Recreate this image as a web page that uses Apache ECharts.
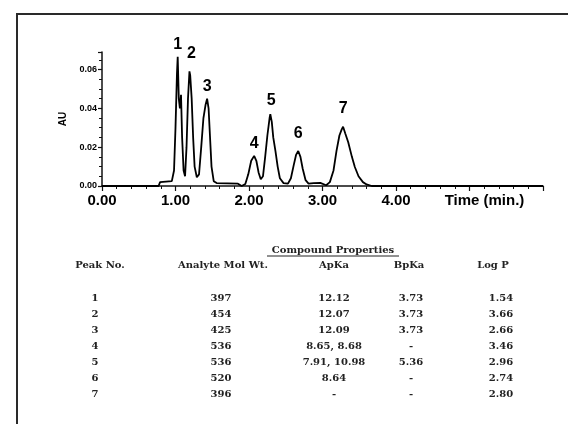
<!DOCTYPE html>
<html>
<head>
<meta charset="utf-8">
<script src="https://cdn.jsdelivr.net/npm/echarts@6/dist/echarts.min.js"></script>
<style>
  html, body { margin: 0; padding: 0; background: #fff; }
  #main { width: 568px; height: 424px; }
</style>
</head>
<body>
<div id="main"></div>
<script>
// chromatogram trace (time in min, absorbance in AU)
const timeMin = [0, 0.77, 0.79, 0.95, 0.98, 1.00, 1.02, 1.03, 1.045, 1.06, 1.075, 1.09, 1.11, 1.13,
  1.15, 1.17, 1.19, 1.20, 1.22, 1.24, 1.26, 1.29, 1.32, 1.35, 1.38, 1.41, 1.43, 1.45, 1.47, 1.49,
  1.52, 1.56, 1.85, 1.90, 1.95, 1.99, 2.03, 2.07, 2.10, 2.13, 2.16, 2.19, 2.22, 2.25, 2.28, 2.29,
  2.31, 2.33, 2.36, 2.39, 2.42, 2.47, 2.53, 2.57, 2.61, 2.64, 2.67, 2.70, 2.73, 2.77, 2.81, 2.88,
  2.97, 3.05, 3.10, 3.15, 3.19, 3.23, 3.26, 3.28, 3.31, 3.35, 3.40, 3.44, 3.49, 3.55, 3.60, 3.67, 6.0];
const absAU = [0, 0, 0.002, 0.0025, 0.008, 0.030, 0.058, 0.0665, 0.045, 0.040, 0.047, 0.025, 0.008, 0.005,
  0.020, 0.045, 0.059, 0.057, 0.045, 0.025, 0.010, 0.0045, 0.006, 0.020, 0.035, 0.042, 0.045, 0.040, 0.025, 0.010,
  0.0025, 0.0015, 0.0012, 0, 0.001, 0.006, 0.013, 0.0155, 0.013, 0.007, 0.0035, 0.005, 0.015, 0.026, 0.035, 0.037,
  0.033, 0.025, 0.018, 0.010, 0.004, 0.0015, 0.0012, 0.004, 0.011, 0.016, 0.018, 0.015, 0.009, 0.003, 0.0012, 0.0015,
  0.0016, 0.0004, 0.002, 0.008, 0.018, 0.026, 0.029, 0.0305, 0.027, 0.0225, 0.015, 0.0098, 0.005, 0.002, 0.0008, 0, 0];

// peak apexes
const peakNo = ['1', '2', '3', '4', '5', '6', '7'];
const peakTime = [1.03, 1.19, 1.43, 2.07, 2.29, 2.67, 3.28];
const peakAU = [0.0665, 0.059, 0.045, 0.0155, 0.037, 0.018, 0.0305];

// compound properties table
const tableTitle = 'Compound Properties';
const tableHeads = ['Peak No.', 'Analyte Mol Wt.', 'ApKa', 'BpKa', 'Log P'];
const molWt = ['397', '454', '425', '536', '536', '520', '396'];
const apKa = ['12.12', '12.07', '12.09', '8.65, 8.68', '7.91, 10.98', '8.64', '-'];
const bpKa = ['3.73', '3.73', '3.73', '-', '5.36', '-', '-'];
const logP = ['1.54', '3.66', '2.66', '3.46', '2.96', '2.74', '2.80'];

const xTicks = ['0.00', '1.00', '2.00', '3.00', '4.00'];

// table layout
const headX = [100, 223, 334, 409, 493];
const colX = [95, 221, 334, 411, 501];
const headY = 265;
const rowY0 = 298;
const rowStep = 16.1;
const tableFont = 'bold 10px "DejaVu Serif"';
const tableColor = '#222';

const graphics = [{
  type: 'rect',
  shape: { x: 17, y: 14, width: 600, height: 500 },
  style: { fill: 'none', stroke: '#2a2a2a', lineWidth: 2 },
  silent: true
}, {
  type: 'text',
  x: 333, y: 250,
  style: { text: tableTitle, font: tableFont, fill: tableColor, align: 'center', verticalAlign: 'middle' }
}, {
  type: 'line',
  shape: { x1: 267, y1: 256, x2: 399, y2: 256 },
  style: { stroke: tableColor, lineWidth: 1 }
}];

tableHeads.forEach((h, i) => {
  graphics.push({
    type: 'text', x: headX[i], y: headY,
    style: { text: h, font: tableFont, fill: tableColor, align: 'center', verticalAlign: 'middle' }
  });
});

[peakNo, molWt, apKa, bpKa, logP].forEach((col, c) => {
  col.forEach((v, r) => {
    graphics.push({
      type: 'text', x: colX[c], y: rowY0 + r * rowStep,
      style: { text: v, font: tableFont, fill: tableColor, align: 'center', verticalAlign: 'middle' }
    });
  });
});

const labelOffsets = [[0, 0], [2, -6], [0, 0], [0, 0], [1, -2], [0, -5], [0, -6]];

const option = {
  animation: false,
  backgroundColor: '#fff',
  grid: { left: 102, right: 25, top: 52, bottom: 238 },
  xAxis: {
    type: 'value',
    min: 0, max: 6, interval: 1,
    axisLine: { lineStyle: { color: '#111', width: 1.5 } },
    axisTick: { show: true, inside: false, length: 5, lineStyle: { color: '#111', width: 1.2 } },
    minorTick: { show: true, splitNumber: 5, length: 3, lineStyle: { color: '#111', width: 1 } },
    splitLine: { show: false },
    axisLabel: {
      margin: 7,
      color: '#000',
      fontFamily: 'Liberation Sans',
      fontWeight: 'bold',
      fontSize: 15,
      formatter: v => {
        if (v <= 4) return xTicks[v];
        if (v === 5) return '{t|Time (min.)}';
        return '';
      },
      rich: { t: { fontFamily: 'Liberation Sans', fontWeight: 'bold', fontSize: 15, color: '#000', padding: [0, 0, 0, 30] } }
    }
  },
  yAxis: {
    type: 'value',
    min: 0, max: 0.069, interval: 0.02,
    name: 'AU',
    nameLocation: 'middle',
    nameGap: 32,
    nameTextStyle: { fontFamily: 'Liberation Sans', fontWeight: 'bold', fontSize: 10, color: '#000' },
    axisLine: { show: true, lineStyle: { color: '#111', width: 1.5 } },
    axisTick: { show: true, inside: false, length: 4, lineStyle: { color: '#111', width: 1.2 } },
    minorTick: { show: true, splitNumber: 4, length: 3, lineStyle: { color: '#111', width: 1 } },
    splitLine: { show: false },
    axisLabel: {
      margin: 5,
      color: '#000',
      fontFamily: 'Liberation Sans',
      fontWeight: 'bold',
      fontSize: 9,
      showMaxLabel: false,
      formatter: v => v.toFixed(2)
    }
  },
  series: [{
    type: 'line',
    data: timeMin.map((t, i) => [t, absAU[i]]),
    showSymbol: false,
    symbol: 'none',
    lineStyle: { color: '#000', width: 1.8 },
    silent: true
  }, {
    type: 'scatter',
    symbolSize: 0,
    clip: false,
    data: peakTime.map((t, i) => ({
      value: [t, peakAU[i]],
      name: peakNo[i],
      label: { offset: labelOffsets[i] }
    })),
    label: {
      show: true,
      position: 'top',
      distance: 4,
      formatter: p => p.name,
      color: '#000',
      opacity: 1,
      fontFamily: 'Liberation Sans',
      fontWeight: 'bold',
      fontSize: 16
    },
    itemStyle: { opacity: 1 },
    silent: true
  }],
  graphic: graphics
};

const chart = echarts.init(document.querySelector('#main'));
chart.setOption(option);
</script>
</body>
</html>
